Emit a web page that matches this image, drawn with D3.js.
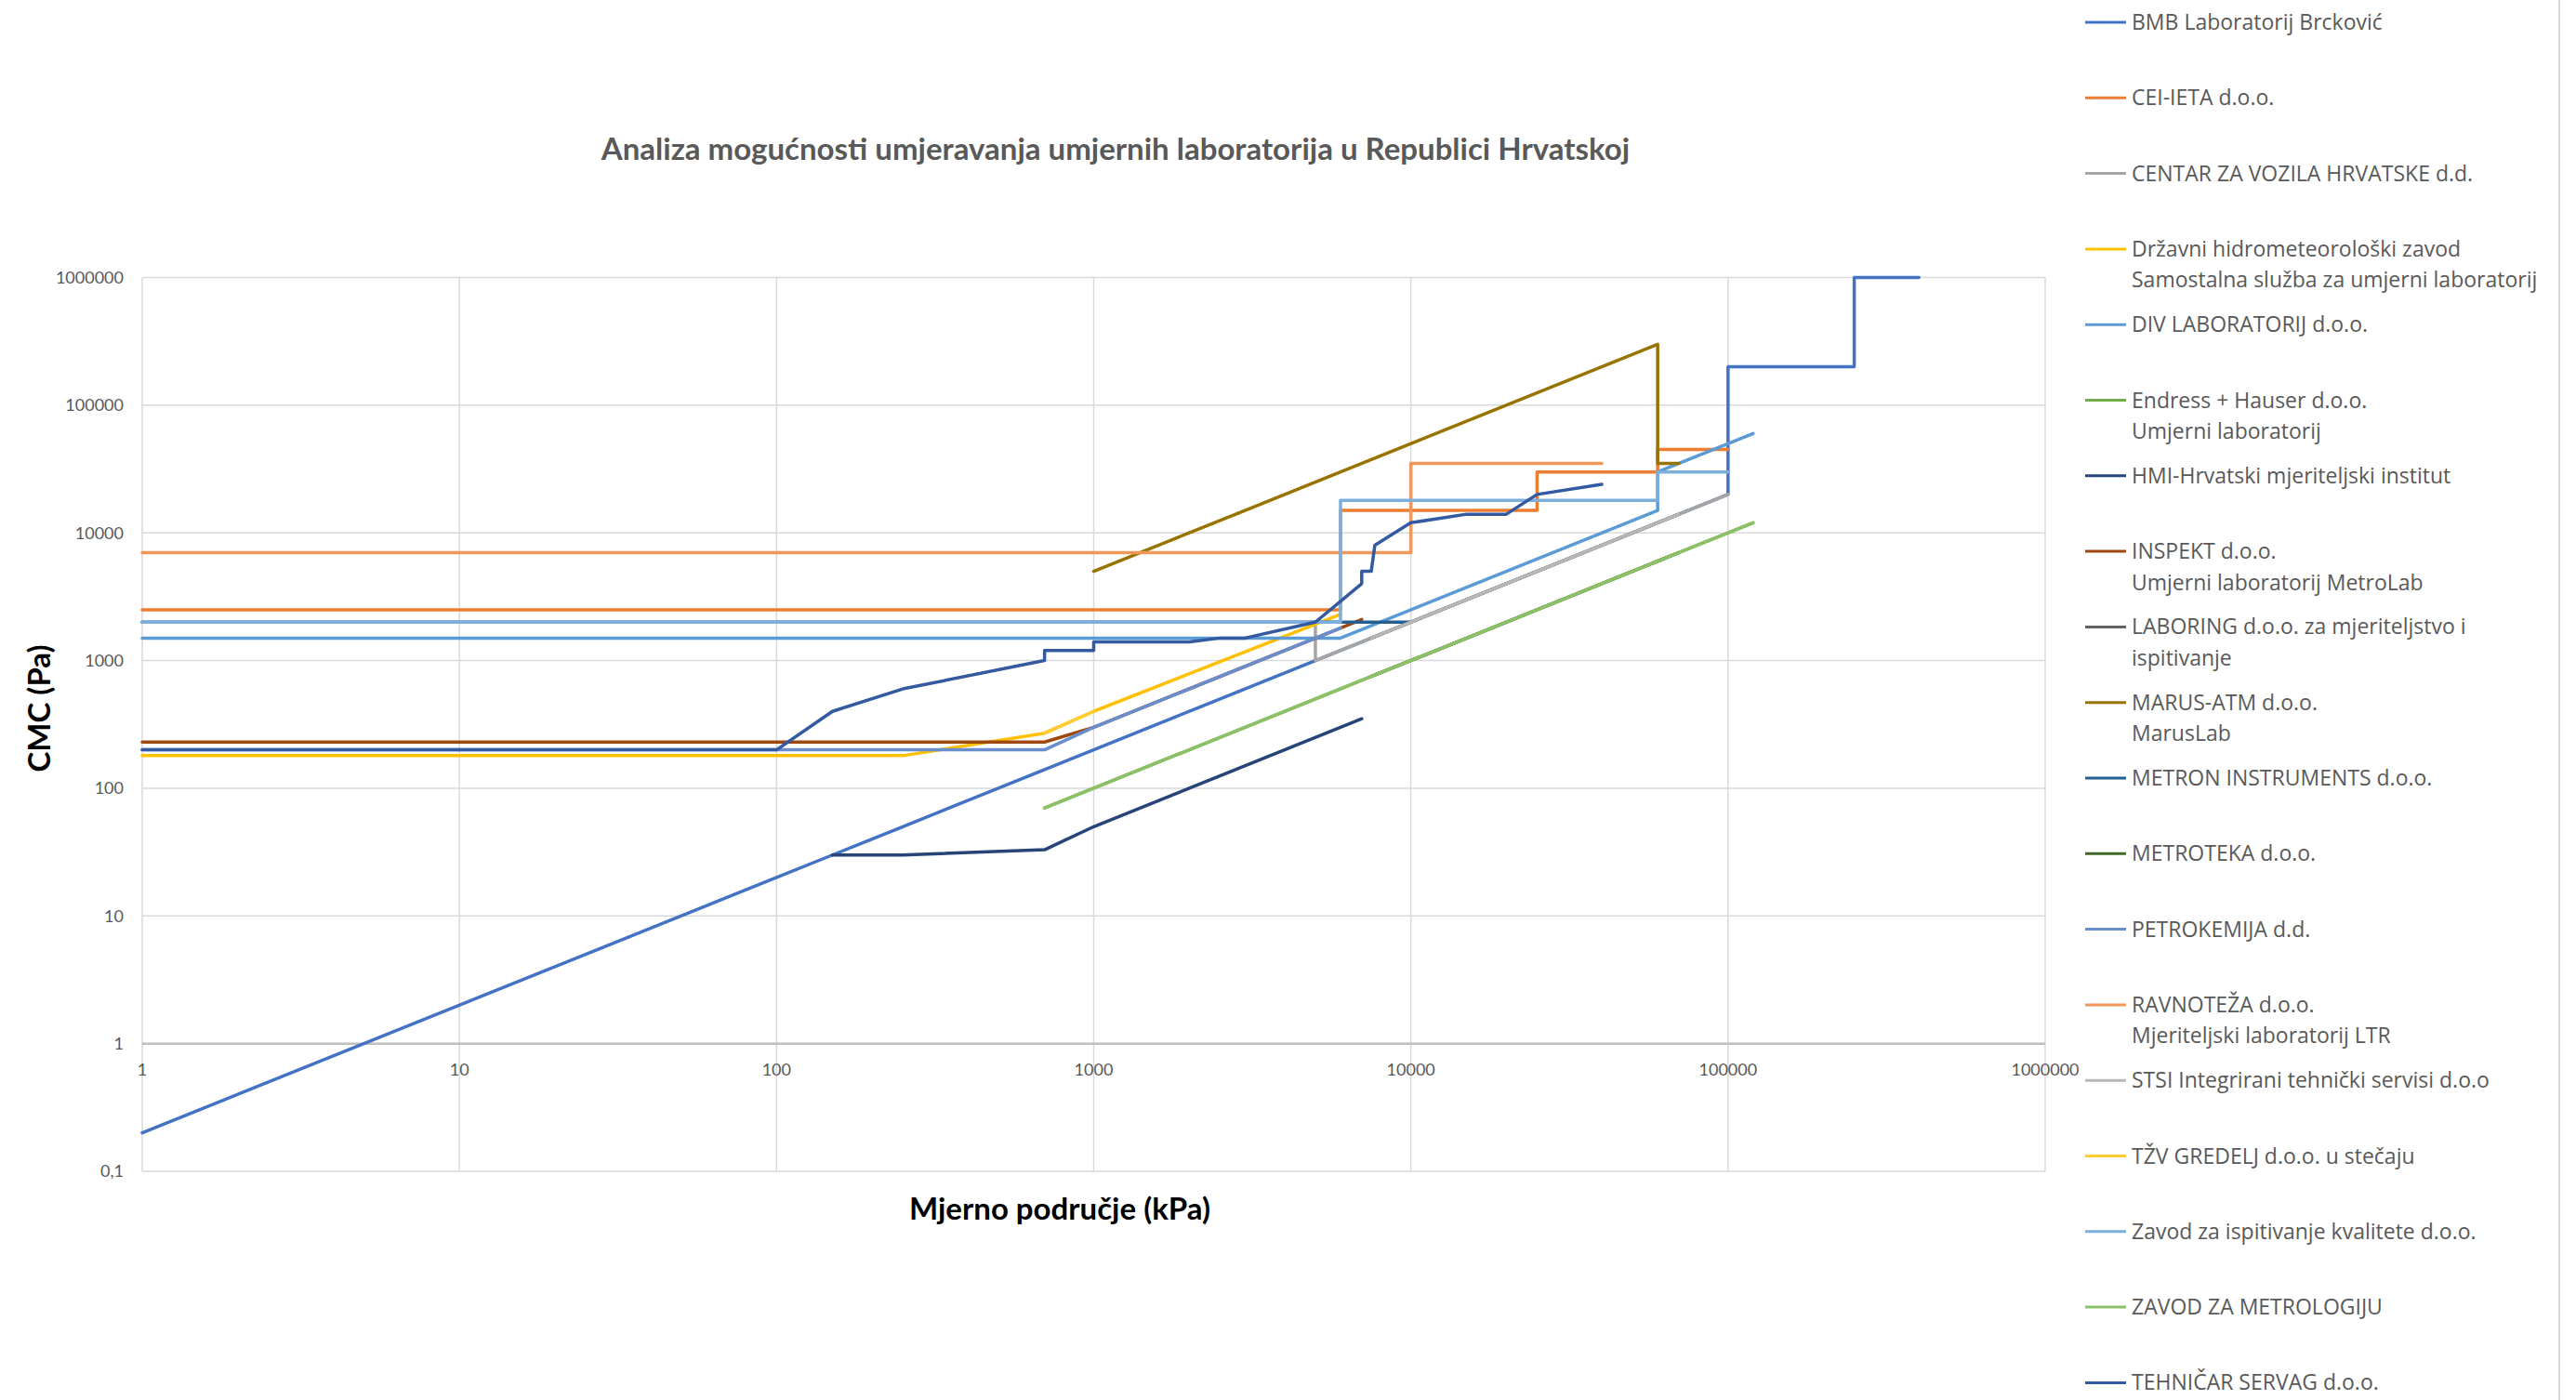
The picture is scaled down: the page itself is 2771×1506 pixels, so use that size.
<!DOCTYPE html>
<html lang="hr">
<head>
<meta charset="utf-8">
<title>Analiza mogućnosti umjeravanja</title>
<script src="https://cdn.jsdelivr.net/npm/d3@7"></script>
<style>
    body { margin: 0; background: #ffffff; }
    .title { font-family: Lato, sans-serif; font-weight: bold; font-size: 33px; fill: #595959; }
    .axistitle { font-family: Lato, sans-serif; font-weight: bold; font-size: 33px; fill: #000000; }
    .ticklabel { font-family: Lato, sans-serif; font-size: 18px; fill: #595959; }
    .legendlabel { font-family: "Open Sans", sans-serif; font-size: 23px; fill: #595959; }
    .grid { stroke: #d9d9d9; stroke-width: 1.5; }
    .series { fill: none; stroke-width: 3.5; stroke-linejoin: round; stroke-linecap: round; }
</style>
</head>
<body>
<div id="chart"></div>
<script>
    // ticks
    const xTicks = [1, 10, 100, 1000, 10000, 100000, 1000000];
    const xTickLabels = ["1", "10", "100", "1000", "10000", "100000", "1000000"];
    const yTicks = [0.1, 1, 10, 100, 1000, 10000, 100000, 1000000];
    const yTickLabels = ["0,1", "1", "10", "100", "1000", "10000", "100000", "1000000"];

    // series: [mjerno područje kPa, CMC Pa]
    const bmb = [[1, 0.2], [100, 20], [150, 30], [200, 40], [250, 50], [700, 140], [5000, 1000], [100000, 20000],
        [100000, 200000], [250000, 200000], [250000, 1000000], [400000, 1000000]];
    const ceiIeta = [[1, 2500], [6000, 2500], [6000, 15000], [25000, 15000], [25000, 30000], [60000, 30000],
        [60000, 45000], [100000, 45000]];
    const cvh = [[5000, 2000], [5000, 1000], [7500, 1500], [70000, 14000], [100000, 20000]];
    const dhmz = [[1, 180], [250, 180], [700, 270], [1000, 400], [6000, 2300]];
    const divLab = [[1, 1500], [6000, 1500], [60000, 15000], [60000, 30000], [120000, 60000]];
    const endress = [[700, 70], [7500, 750], [70000, 7000], [120000, 12000]];
    const hmi = [[150, 30], [250, 30], [700, 33], [1000, 50], [2500, 125], [6000, 300], [7000, 350]];
    const inspekt = [[1, 230], [700, 230], [1000, 300], [6000, 1800], [7000, 2100]];
    const laboring = [[7500, 1500], [70000, 14000]];
    const marus = [[1000, 5000], [3000, 15000], [7500, 37500], [60000, 300000], [60000, 35000], [70000, 35000]];
    const metron = [[1, 2000], [10000, 2000]];
    const metroteka = [[7500, 750], [70000, 7000]];
    const petrokemija = [[1, 200], [700, 200], [1000, 300], [6000, 1800]];
    const ravnoteza = [[1, 7000], [10000, 7000], [10000, 35000], [40000, 35000]];
    const stsi = [[7500, 1500], [70000, 14000]];
    const tzv = [[700, 270], [1000, 400]];
    const zik = [[1, 2000], [6000, 2000], [6000, 18000], [60000, 18000], [60000, 30000], [100000, 30000]];
    const zzm = [[700, 70], [7500, 750], [70000, 7000], [120000, 12000]];
    const tehnicar = [[1, 200], [100, 200], [150, 400], [250, 600], [700, 1000], [700, 1200], [1000, 1200],
        [1000, 1400], [2000, 1400], [2500, 1500], [3000, 1500], [5000, 2000], [7000, 4000], [7000, 5000],
        [7500, 5000], [7700, 8000], [10000, 12000], [15000, 14000], [20000, 14000], [25000, 20000], [40000, 24000]];

    const seriesNames = [
        ["BMB Laboratorij Brcković"],
        ["CEI-IETA d.o.o."],
        ["CENTAR ZA VOZILA HRVATSKE d.d."],
        ["Državni hidrometeorološki zavod", "Samostalna služba za umjerni laboratorij"],
        ["DIV LABORATORIJ d.o.o."],
        ["Endress + Hauser d.o.o.", "Umjerni laboratorij"],
        ["HMI-Hrvatski mjeriteljski institut"],
        ["INSPEKT d.o.o.", "Umjerni laboratorij MetroLab"],
        ["LABORING d.o.o. za mjeriteljstvo i", "ispitivanje"],
        ["MARUS-ATM d.o.o.", "MarusLab"],
        ["METRON INSTRUMENTS d.o.o."],
        ["METROTEKA d.o.o."],
        ["PETROKEMIJA d.d."],
        ["RAVNOTEŽA d.o.o.", "Mjeriteljski laboratorij LTR"],
        ["STSI Integrirani tehnički servisi d.o.o"],
        ["TŽV GREDELJ d.o.o. u stečaju"],
        ["Zavod za ispitivanje kvalitete d.o.o."],
        ["ZAVOD ZA METROLOGIJU"],
        ["TEHNIČAR SERVAG  d.o.o."]
    ];
    const seriesData = [bmb, ceiIeta, cvh, dhmz, divLab, endress, hmi, inspekt, laboring, marus, metron,
        metroteka, petrokemija, ravnoteza, stsi, tzv, zik, zzm, tehnicar];

    const palette = ["#4472c4", "#ed7d31", "#a5a5a5", "#ffc000", "#5b9bd5", "#70ad47", "#264478", "#9e480e",
        "#636363", "#997300", "#255e91", "#43682b", "#698ed0", "#f1975a", "#b7b7b7", "#ffcd33", "#7cafdd",
        "#8cc168", "#335aa1"];

    const w = 2771;
    const h = 1506;
    const plot = {left: 153, right: 2200, top: 298.5, bottom: 1260};

    const svg = d3.select("#chart").append("svg")
        .attr("width", w)
        .attr("height", h)
        .attr("viewBox", "0 0 " + w + " " + h);

    const x = d3.scaleLog().domain([1, 1000000]).range([plot.left, plot.right]);
    const y = d3.scaleLog().domain([0.1, 1000000]).range([plot.bottom, plot.top]);

    // gridlines
    svg.append("g").selectAll("line")
        .data(yTicks)
        .enter()
        .append("line")
        .attr("class", "grid")
        .attr("x1", plot.left).attr("x2", plot.right)
        .attr("y1", d => y(d)).attr("y2", d => y(d));

    svg.append("g").selectAll("line")
        .data(xTicks)
        .enter()
        .append("line")
        .attr("class", "grid")
        .attr("x1", d => x(d)).attr("x2", d => x(d))
        .attr("y1", plot.top).attr("y2", plot.bottom);

    // horizontal axis crosses at 1
    svg.append("line")
        .attr("x1", plot.left).attr("x2", plot.right)
        .attr("y1", y(1)).attr("y2", y(1))
        .attr("stroke", "#bfbfbf").attr("stroke-width", 2.5);

    // tick labels
    svg.append("g").selectAll("text")
        .data(yTicks)
        .enter()
        .append("text")
        .attr("class", "ticklabel")
        .attr("x", plot.left - 20)
        .attr("y", d => y(d))
        .attr("dy", "0.35em")
        .attr("text-anchor", "end")
        .text((d, i) => yTickLabels[i]);

    svg.append("g").selectAll("text")
        .data(xTicks)
        .enter()
        .append("text")
        .attr("class", "ticklabel")
        .attr("x", d => x(d))
        .attr("y", y(1) + 28)
        .attr("dy", "0.35em")
        .attr("text-anchor", "middle")
        .text((d, i) => xTickLabels[i]);

    // series lines
    const line = d3.line().x(d => x(d[0])).y(d => y(d[1]));
    svg.append("g").selectAll("path")
        .data(seriesData)
        .enter()
        .append("path")
        .attr("class", "series")
        .attr("stroke", (d, i) => palette[i])
        .attr("d", line);

    // titles
    svg.append("text")
        .attr("class", "title")
        .attr("x", 1200)
        .attr("y", 160)
        .attr("dy", "0.35em")
        .attr("text-anchor", "middle")
        .text("Analiza mogućnosti  umjeravanja  umjernih laboratorija  u Republici Hrvatskoj");

    svg.append("text")
        .attr("class", "axistitle")
        .attr("x", 1140)
        .attr("y", 1300)
        .attr("dy", "0.35em")
        .attr("text-anchor", "middle")
        .text("Mjerno područje  (kPa)");

    svg.append("text")
        .attr("class", "axistitle")
        .attr("transform", "translate(42,762) rotate(-90)")
        .attr("dy", "0.35em")
        .attr("text-anchor", "middle")
        .text("CMC  (Pa)");

    // legend
    const legend = svg.append("g").selectAll("g")
        .data(seriesNames)
        .enter()
        .append("g")
        .attr("transform", (d, i) => "translate(2243," + (24 + i * 81.3) + ")");

    legend.append("line")
        .attr("x1", 0).attr("x2", 44)
        .attr("y1", 0).attr("y2", 0)
        .attr("stroke", (d, i) => palette[i])
        .attr("stroke-width", 3);

    legend.append("text")
        .attr("class", "legendlabel")
        .selectAll("tspan")
        .data(d => d)
        .enter()
        .append("tspan")
        .attr("x", 50)
        .attr("y", (d, i) => i * 33.5)
        .attr("dy", "0.35em")
        .text(d => d);

    // chart border on the right
    svg.append("line")
        .attr("x1", 2753).attr("x2", 2753)
        .attr("y1", 0).attr("y2", h)
        .attr("stroke", "#d9d9d9").attr("stroke-width", 2);
</script>
</body>
</html>
